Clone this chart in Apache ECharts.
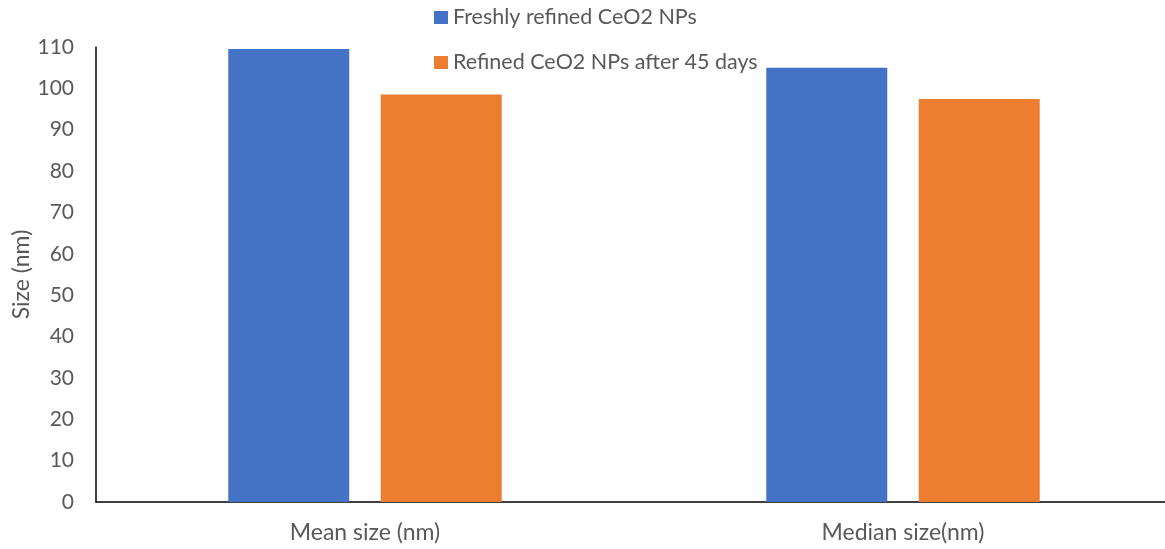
<!DOCTYPE html>
<html>
<head>
<meta charset="utf-8">
<script src="https://cdn.jsdelivr.net/npm/echarts@6/dist/echarts.min.js"></script>
<style>html,body{margin:0;padding:0;background:#fff;}#c{width:1165px;height:549px;}</style>
</head>
<body>
<div id="c"></div>
<script>
const categories = ['Mean size (nm)', 'Median size(nm)'];
const freshValues = [109.5, 105];
const agedValues = [98.5, 97.4];
const seriesNames = ['Freshly refined CeO2 NPs', 'Refined CeO2 NPs after 45 days'];

const font = 'Lato, Open Sans, sans-serif';
const chart = echarts.init(document.getElementById('c'));
chart.setOption({
  animation: false,
  textStyle: { fontFamily: font },
  legend: {
    orient: 'vertical',
    left: 434,
    top: 4,
    padding: 0,
    itemWidth: 14,
    itemHeight: 13,
    itemGap: 18,
    icon: 'rect',
    textStyle: { fontSize: 21.5, color: '#595959', fontFamily: font, lineHeight: 27 },
    data: seriesNames
  },
  grid: { left: 96, width: 1076, top: 47, bottom: 47, containLabel: false, outerBoundsMode: 'none' },
  xAxis: {
    type: 'category',
    data: categories,
    axisLine: { lineStyle: { color: '#000', width: 1.5 } },
    axisTick: { show: false },
    axisLabel: { fontSize: 23, color: '#595959', margin: 19, fontFamily: font }
  },
  yAxis: {
    type: 'value',
    min: 0, max: 110, interval: 10,
    name: 'Size (nm)',
    nameLocation: 'middle',
    nameGap: 63,
    nameMoveOverlap: false,
    nameTextStyle: { fontSize: 23, color: '#595959', fontFamily: font },
    axisLine: { show: true, lineStyle: { color: '#000', width: 1.5 } },
    axisTick: { show: false },
    splitLine: { show: false },
    axisLabel: { fontSize: 21, color: '#595959', margin: 22, fontFamily: font }
  },
  series: [
    { name: seriesNames[0], type: 'bar', data: freshValues, barWidth: 121, barGap: '26%', itemStyle: { color: '#4472C4' } },
    { name: seriesNames[1], type: 'bar', data: agedValues, barWidth: 121, barGap: '26%', itemStyle: { color: '#ED7D31' } }
  ]
});
</script>
</body>
</html>
